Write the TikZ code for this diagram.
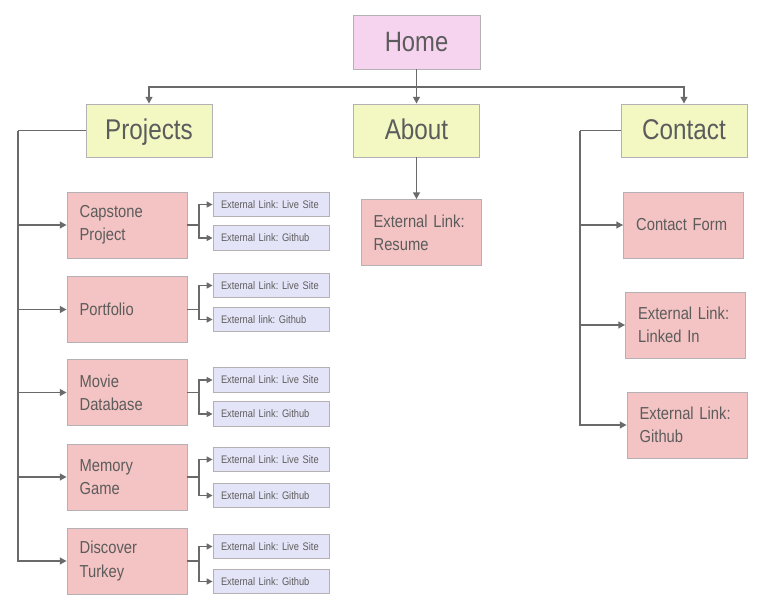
\documentclass[tikz,border=0pt]{standalone}
\usepackage{fontspec}
\setmainfont{Liberation Sans}[FakeStretch=0.85]
\usetikzlibrary{arrows.meta,positioning,calc}
\definecolor{ink}{HTML}{5c5c5c}
\definecolor{wire}{HTML}{6a6a6a}
\definecolor{rim}{HTML}{b4b0b4}
\definecolor{homefill}{HTML}{f6d4ef}
\definecolor{secfill}{HTML}{f3f7c2}
\definecolor{pagefill}{HTML}{f4c3c3}
\definecolor{linkfill}{HTML}{e4e4f8}
\frenchspacing

\begin{document}
\begin{tikzpicture}[
  x=0.75pt, y=-0.75pt,
  base/.style={rectangle, draw=rim, line width=0.6pt, text=ink, inner sep=0pt},
  homebox/.style={base, fill=homefill, minimum width=95.25pt, minimum height=40.5pt,
                  font=\fontsize{21}{24}\selectfont},
  secbox/.style={base, fill=secfill, minimum width=94.5pt, minimum height=39.75pt,
                 text height=17pt, text depth=3pt,
                 font=\fontsize{21.4}{24}\selectfont},
  pagebox/.style={base, fill=pagefill, minimum width=90pt, minimum height=49.5pt,
                  text width=71pt, inner xsep=9.5pt, align=left,
                  font=\fontsize{13}{17.5}\selectfont\frenchspacing},
  linkbox/.style={base, fill=linkfill, minimum width=87pt, minimum height=18.4pt,
                  text width=75pt, inner xsep=6pt, align=left,
                  font=\fontsize{8.2}{10}\selectfont\frenchspacing},
  line/.style={draw=wire, line width=1.4pt},
  arr/.style={line, -{Triangle[length=5pt,width=5pt]}},
  farr/.style={line, -{Triangle[length=4.5pt,width=4.5pt]}},
]
  \useasboundingbox (0,0) rectangle (765,614);

  % top levels
  \node[homebox](home) at (416.5,42){Home};
  \node[secbox](proj) at (149,130.5){Projects};
  \node[secbox](about) at (416.5,130.5){About};
  \node[secbox](cont) at (684,130.5){Contact};
  \coordinate (bus) at (416.5,87);
  \draw[line](home.south)--(bus);
  \draw[arr](bus)-|(proj.north); \draw[arr](bus)-|(cont.north);
  \draw[arr](bus)--(about.north);

  % projects
  \node[pagebox](cap) at (127,225){Capstone\\Project};
  \node[pagebox](port) at (127,309.5){Portfolio};
  \node[pagebox](movie) at (127,392.5){Movie\\Database};
  \node[pagebox](mem) at (127,477){Memory\\Game};
  \node[pagebox](turk) at (127,561){Discover\\Turkey};
  \coordinate (pl) at (18,130.5);
  \draw[line](proj.west)--(pl);
  \foreach \p in {cap,port,movie,mem,turk}
    \draw[arr](pl)|-(\p.west);

  % external links of the projects
  \node[linkbox](capA) at (271,204.5){External Link: Live Site};
  \node[linkbox](capB) at (271,238){External Link: Github};
  \node[linkbox](portA) at (271,285.5){External Link: Live Site};
  \node[linkbox](portB) at (271,319.5){External link: Github};
  \node[linkbox](movieA) at (271,380){External Link: Live Site};
  \node[linkbox](movieB) at (271,414){External Link: Github};
  \node[linkbox](memA) at (271,459.5){External Link: Live Site};
  \node[linkbox](memB) at (271,495.5){External Link: Github};
  \node[linkbox](turkA) at (271,546.5){External Link: Live Site};
  \node[linkbox](turkB) at (271,581.5){External Link: Github};
  \foreach \p in {cap,port,movie,mem,turk}{
    \draw[farr](\p.east)--++(12,0)|-(\p A.west);
    \draw[farr](\p.east)--++(12,0)|-(\p B.west);
  }

  % about
  \node[pagebox](resume) at (421,232.5){External Link:\\Resume};
  \draw[arr](about.south)--(about.south|-resume.north);

  % contact
  \node[pagebox](form) at (683.5,225){Contact Form\\[6pt]};
  \node[pagebox](lnkd) at (685.5,325){External Link:\\Linked In};
  \node[pagebox](cgit) at (687,425){External Link:\\Github};
  \coordinate (cl) at (580,130.5);
  \draw[line](cont.west)--(cl);
  \foreach \p in {form,lnkd,cgit}
    \draw[arr](cl)|-(\p.west);
\end{tikzpicture}
\end{document}
